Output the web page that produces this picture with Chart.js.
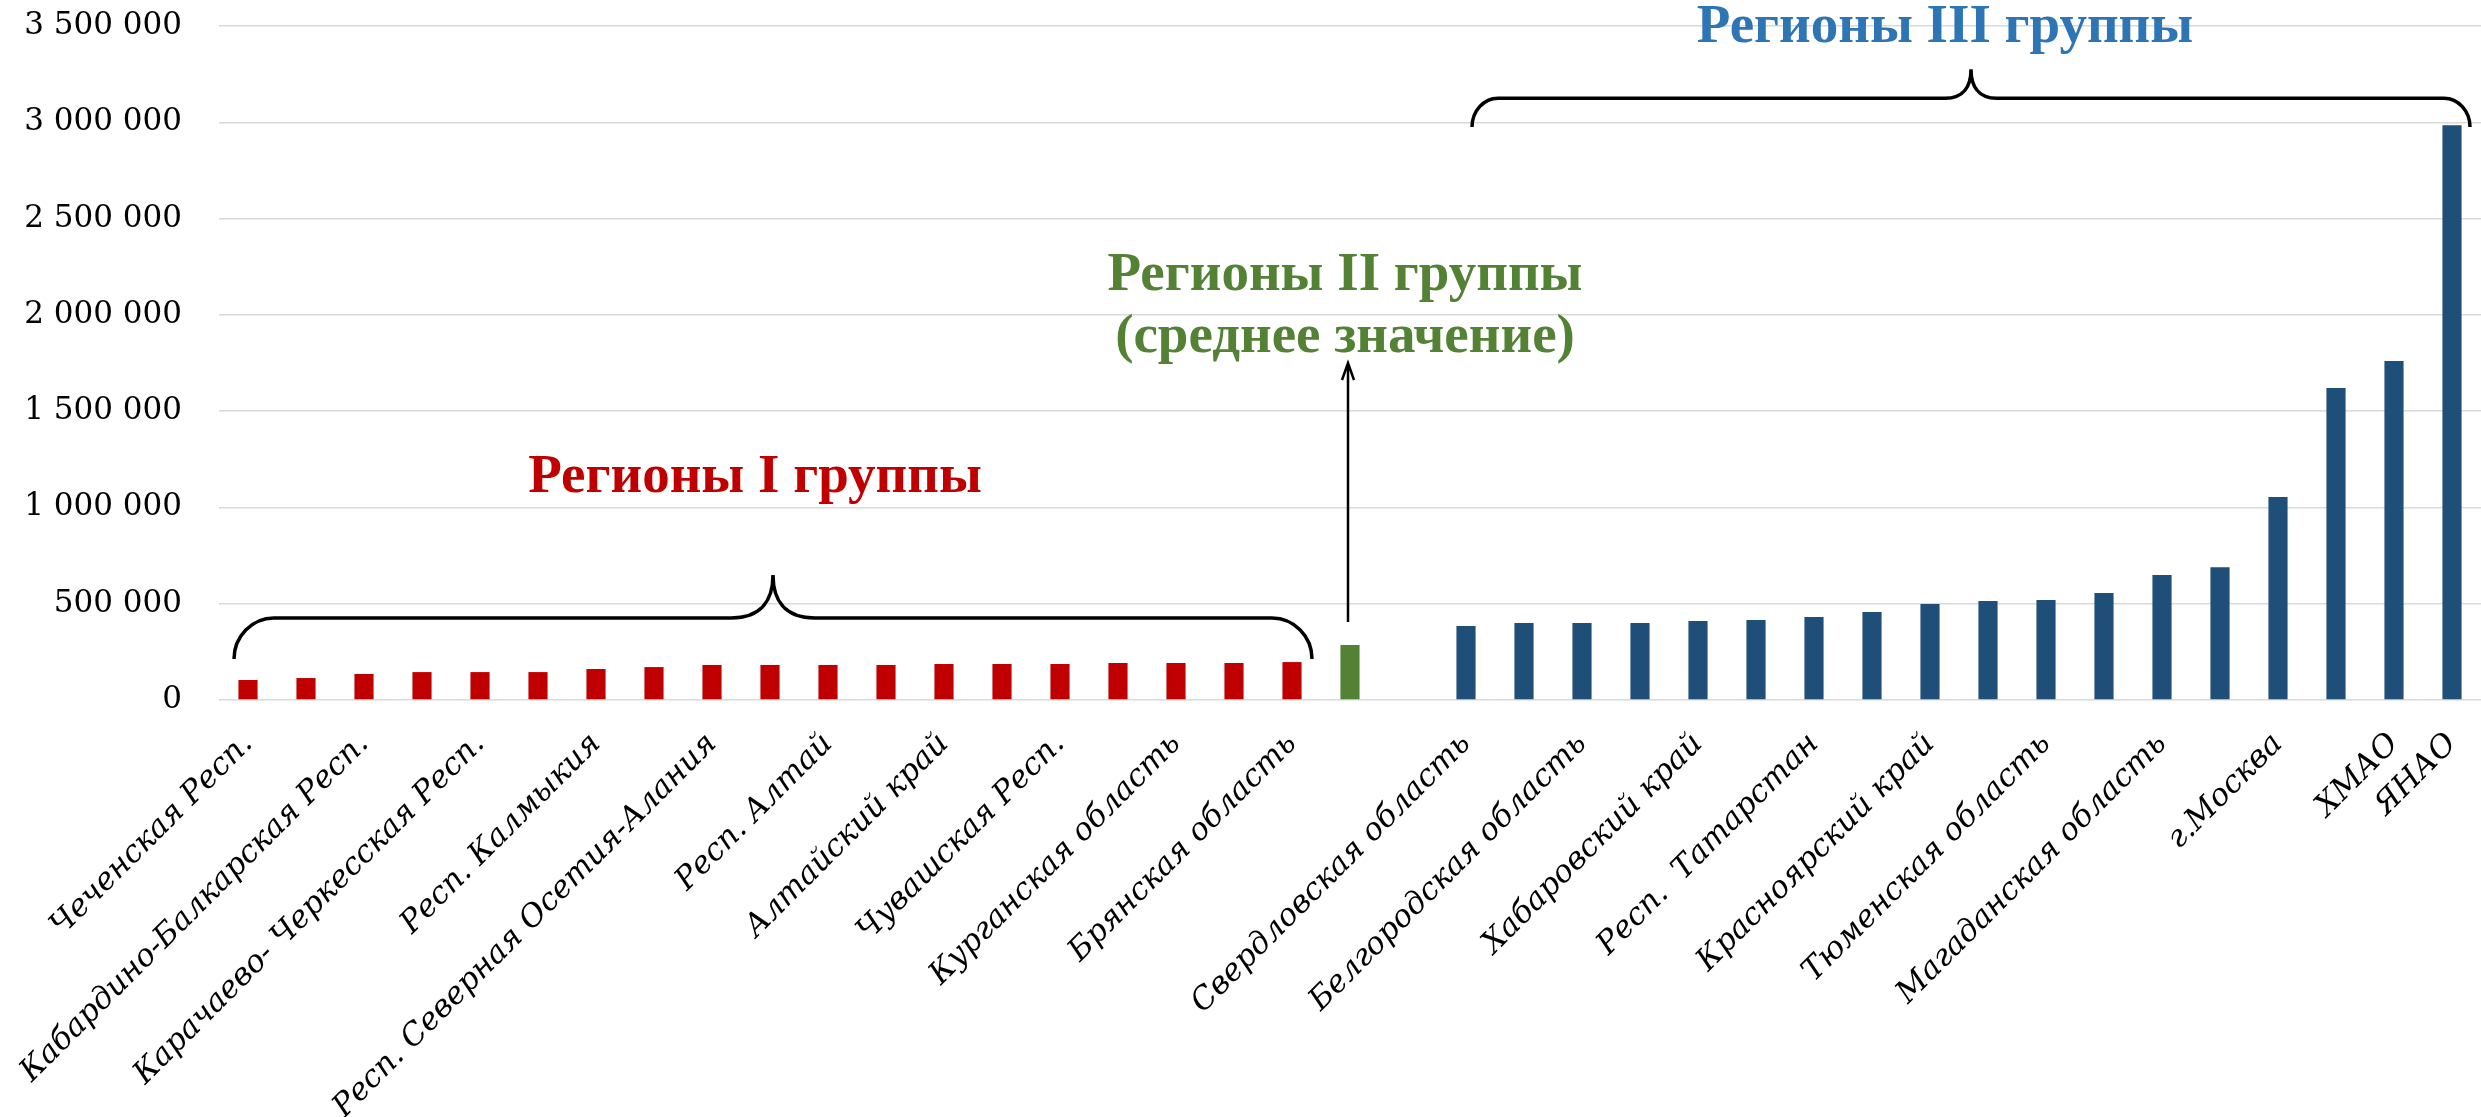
<!DOCTYPE html>
<html>
<head>
<meta charset="utf-8">
<script src="https://cdn.jsdelivr.net/npm/chart.js@4.4.1/dist/chart.umd.min.js"></script>
<style>
    html, body { margin: 0; padding: 0; background: #ffffff; }
    #wrap { width: 2481px; height: 1117px; position: relative; }
</style>
</head>
<body>
<div id="wrap"><canvas id="regionsChart"></canvas></div>
<script>
// Category labels (blank = region not signed on the axis)
const group1Labels = [
    'Чеченская Респ.', '', 'Кабардино-Балкарская Респ.', '', 'Карачаево- Черкесская Респ.', '',
    'Респ. Калмыкия', '', 'Респ. Северная Осетия-Алания', '', 'Респ. Алтай', '',
    'Алтайский край', '', 'Чувашская Респ.', '', 'Курганская область', '', 'Брянская область'
];
const group2Labels = [''];
const gapLabels = [''];
const group3Labels = [
    'Свердловская область', '', 'Белгородская область', '', 'Хабаровский край', '',
    'Респ.  Татарстан', '', 'Красноярский край', '', 'Тюменская область', '',
    'Магаданская область', '', 'г.Москва', '', 'ХМАО', 'ЯНАО'
];

// Values
const group1Values = [104000, 114000, 135000, 145000, 145000, 145000, 161000, 171000, 182000, 182000,
                      182000, 182000, 187000, 187000, 187000, 192000, 192000, 192000, 197000];
const group2Values = [286000];
const gapValues = [null];
const group3Values = [384000, 400000, 400000, 400000, 410000, 415000, 431000, 457000, 498000, 514000,
                      519000, 556000, 649000, 690000, 1054000, 1620000, 1760000, 2985000];

// Y axis ticks
const yTickValues = [0, 500000, 1000000, 1500000, 2000000, 2500000, 3000000, 3500000];

const RED = '#C00000';
const GREEN = '#548235';
const BLUE = '#1F4E79';

const allLabels = [...group1Labels, ...group2Labels, ...gapLabels, ...group3Labels];
const allValues = [...group1Values, ...group2Values, ...gapValues, ...group3Values];
const barColors = [
    ...group1Values.map(() => RED),
    ...group2Values.map(() => GREEN),
    ...gapValues.map(() => '#ffffff'),
    ...group3Values.map(() => BLUE)
];

function formatThousands(v) {
    return String(v).replace(/\B(?=(\d{3})+(?!\d))/g, ' ');
}

// Curly brace: ends at yEnd, long stroke at yBar, cusp at yTip
function drawBrace(ctx, x1, x2, yEnd, yBar, yTip, rx, rx2) {
    const xm = (x1 + x2) / 2;
    const ry = yEnd - yBar;
    const th = yBar - yTip;
    ctx.beginPath();
    ctx.moveTo(x1, yEnd);
    ctx.bezierCurveTo(x1, yEnd - ry * 0.55, x1 + rx * 0.45, yBar, x1 + rx, yBar);
    ctx.lineTo(xm - rx2, yBar);
    ctx.bezierCurveTo(xm - rx2 * 0.25, yBar, xm, yBar - th * 0.45, xm, yTip);
    ctx.bezierCurveTo(xm, yBar - th * 0.45, xm + rx2 * 0.25, yBar, xm + rx2, yBar);
    ctx.lineTo(x2 - rx, yBar);
    ctx.bezierCurveTo(x2 - rx * 0.45, yBar, x2, yEnd - ry * 0.55, x2, yEnd);
    ctx.stroke();
}

const groupNotesPlugin = {
    id: 'groupNotes',
    afterDraw(chart) {
        const { ctx } = chart;
        const xs = chart.scales.x;
        const ys = chart.scales.y;
        const cx = i => xs.getPixelForValue(i);
        const py = v => ys.getPixelForValue(v);

        ctx.save();
        ctx.strokeStyle = '#000000';
        ctx.lineCap = 'butt';

        // Brace over group I
        ctx.lineWidth = 3.5;
        drawBrace(ctx, cx(0) - 14, cx(18) + 20, py(213000), py(426000), py(649000), 40, 42);

        // Brace over group III
        drawBrace(ctx, cx(21) + 6, cx(38) + 18, py(2975000), py(3125000), py(3276000), 26, 26);

        // Arrow to group II
        const ax = cx(19) - 2;
        const aBottom = py(405000);
        const aTop = py(1750000);
        ctx.lineWidth = 2.5;
        ctx.beginPath();
        ctx.moveTo(ax, aBottom);
        ctx.lineTo(ax, aTop);
        ctx.moveTo(ax - 6, aTop + 17);
        ctx.lineTo(ax, aTop);
        ctx.lineTo(ax + 6, aTop + 17);
        ctx.stroke();

        // Group titles
        ctx.font = 'bold 55px "Liberation Serif", "Times New Roman", serif';
        ctx.textAlign = 'center';
        ctx.textBaseline = 'alphabetic';

        ctx.fillStyle = RED;
        ctx.fillText('Регионы I группы', cx(9) - 15, py(1080000));

        ctx.fillStyle = GREEN;
        ctx.fillText('Регионы II группы', cx(19) - 5, py(2129000));
        ctx.fillText('(среднее значение)', cx(19) - 5, py(1807000));

        ctx.fillStyle = '#2E75B6';
        ctx.fillText('Регионы III группы', cx(29) + 15, py(3416000));
        ctx.restore();
    }
};

const chart = new Chart(document.getElementById('regionsChart'), {
    type: 'bar',
    data: {
        labels: allLabels,
        datasets: [{
            data: allValues,
            backgroundColor: barColors,
            borderWidth: 0,
            barPercentage: 0.33,
            categoryPercentage: 1.0
        }]
    },
    options: {
        responsive: true,
        maintainAspectRatio: false,
        animation: false,
        events: [],
        layout: { padding: { top: 26, right: 0, bottom: 0, left: 0 } },
        plugins: {
            legend: { display: false },
            tooltip: { enabled: false }
        },
        scales: {
            x: {
                grid: { display: false },
                border: { display: false },
                ticks: {
                    autoSkip: false,
                    maxRotation: 45,
                    minRotation: 45,
                    padding: 18,
                    color: '#000000',
                    font: { family: '"DejaVu Serif", serif', size: 31, style: 'italic' }
                },
                afterFit(scale) {
                    scale.height = 417;
                    scale.paddingLeft = 0;
                    scale.paddingRight = 0;
                }
            },
            y: {
                min: 0,
                max: 3500000,
                afterBuildTicks(scale) {
                    scale.ticks = yTickValues.map(v => ({ value: v }));
                },
                grid: { color: '#D9D9D9', lineWidth: 1.5, drawTicks: false },
                border: { display: false },
                ticks: {
                    padding: 37,
                    color: '#000000',
                    font: { family: '"DejaVu Serif", serif', size: 31 },
                    callback: v => formatThousands(v)
                },
                afterFit(scale) {
                    scale.width = 219;
                    scale.paddingTop = 0;
                    scale.paddingBottom = 0;
                }
            }
        }
    },
    plugins: [groupNotesPlugin]
});
</script>
</body>
</html>
